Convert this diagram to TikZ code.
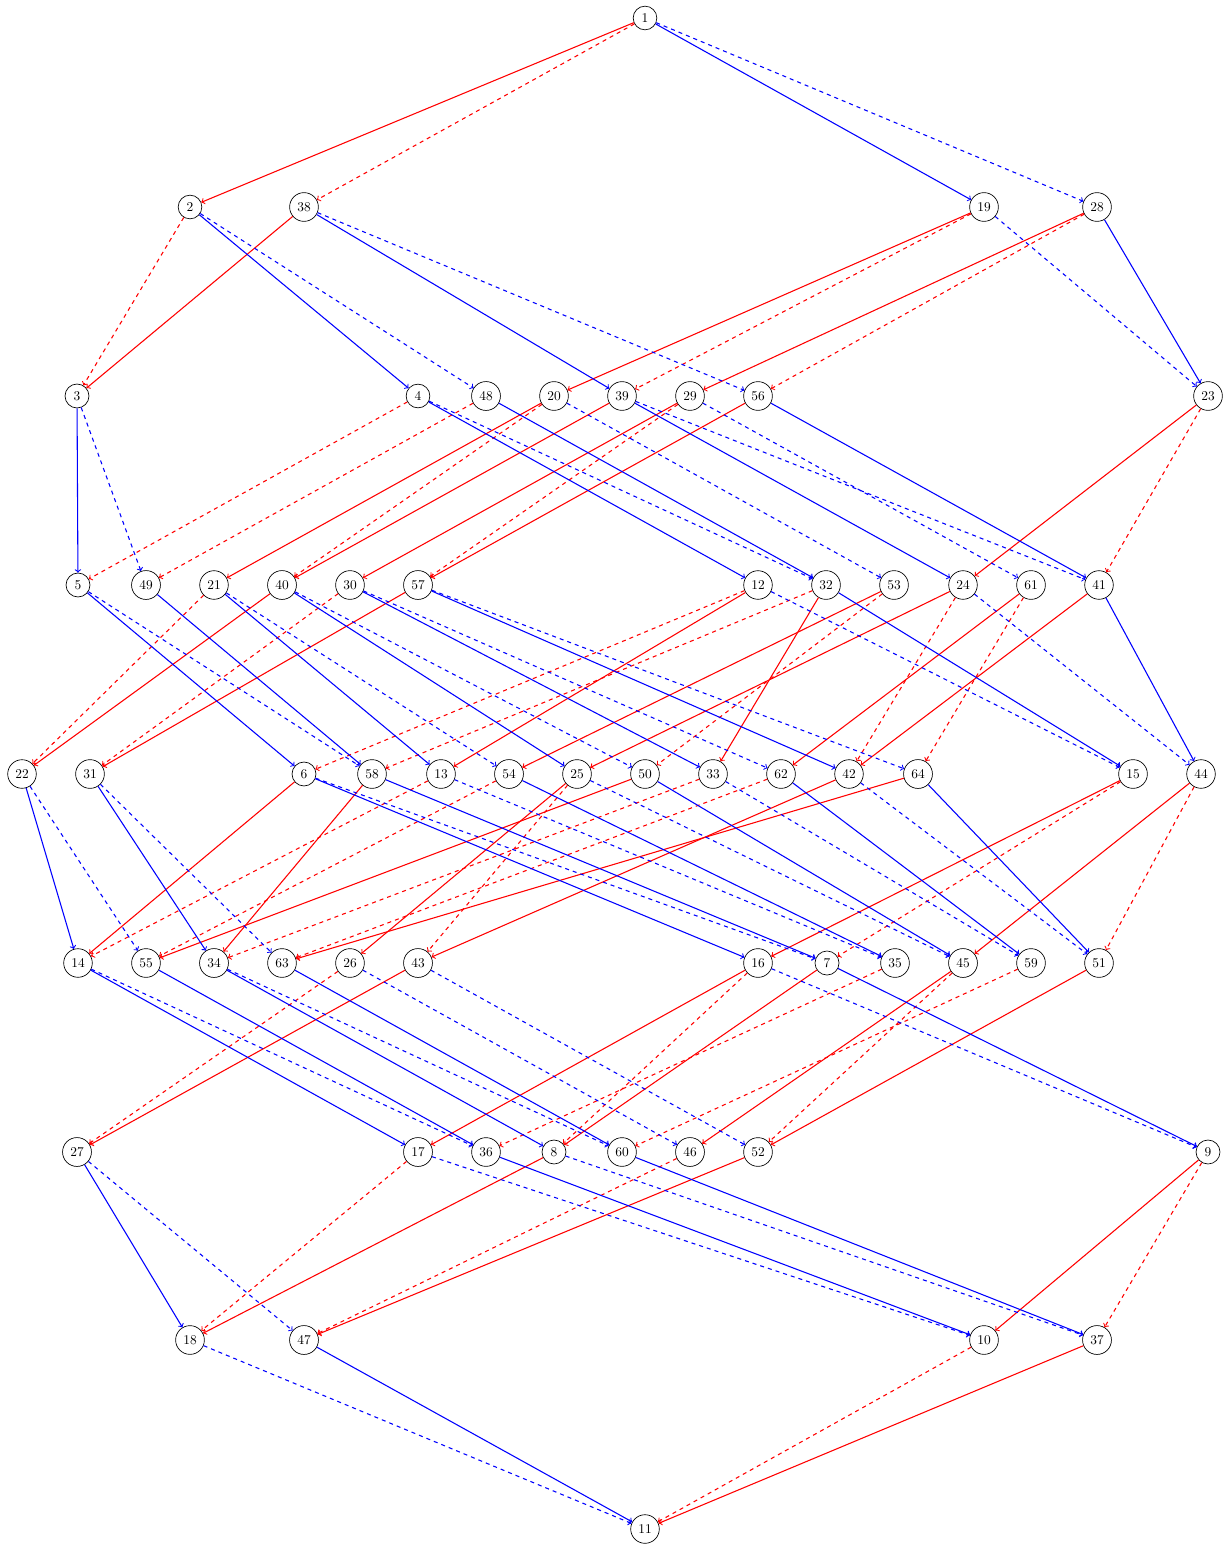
\documentclass[tikz,border=0pt]{standalone}
\usetikzlibrary{arrows}
\begin{document}
\begin{tikzpicture}[x=0.746pt,y=-0.746pt,
  v/.style={draw,circle,line width=0.5pt,fill=white},
  rs/.style={->,red,thick},
  rd/.style={->,red,thick,dashed},
  bs/.style={->,blue,thick},
  bd/.style={->,blue,thick,dashed}]
\useasboundingbox (0,0) rectangle (1231,1546);
% layer 0
\node[v] (n1) at (645,18) {1};
% layer 1
\foreach \n/\x in {2/190,38/304,19/984,28/1097} \node[v] (n\n) at (\x,207) {\n};
% layer 2
\foreach \n/\x in {3/77,4/418,48/486,20/554,39/622,29/690,56/758,23/1208} \node[v] (n\n) at (\x,396) {\n};
% layer 3
\foreach \n/\x in {5/78,49/146,21/214,40/282,30/350,57/418,12/758,32/826,53/894,24/963,61/1031,41/1099} \node[v] (n\n) at (\x,585) {\n};
% layer 4
\foreach \n/\x in {22/22,31/90,6/304,58/372,13/441,54/509,25/577,50/645,33/713,62/781,42/849,64/918,15/1133,44/1201} \node[v] (n\n) at (\x,774) {\n};
% layer 5
\foreach \n/\x in {14/78,55/146,34/214,63/282,26/350,43/418,16/758,7/827,35/895,45/963,59/1031,51/1099} \node[v] (n\n) at (\x,963) {\n};
% layer 6
\foreach \n/\x in {27/77,17/418,36/486,8/554,60/622,46/690,52/758,9/1208} \node[v] (n\n) at (\x,1152) {\n};
% layer 7
\foreach \n/\x in {18/190,47/304,10/984,37/1097} \node[v] (n\n) at (\x,1340) {\n};
% layer 8
\node[v] (n11) at (645,1529) {11};
% edges
\foreach \a/\b in {1/2,38/3,19/20,28/29,20/21,39/40,29/30,56/57,23/24,40/22,57/31,12/13,32/33,53/54,24/25,61/62,41/42,6/14,58/34,25/26,50/55,64/63,42/43,15/16,44/45,43/27,16/17,7/8,45/46,51/52,8/18,52/47,9/10,37/11}
  \draw[rs] (n\a) -- (n\b);
\foreach \a/\b in {1/38,2/3,19/39,28/56,4/5,48/49,20/40,29/57,23/41,21/22,30/31,12/6,32/58,53/50,24/42,61/64,13/14,54/55,25/43,33/34,62/63,15/7,44/51,26/27,16/8,35/36,45/52,59/60,17/18,46/47,9/37,10/11}
  \draw[rd] (n\a) -- (n\b);
\foreach \a/\b in {1/19,2/4,38/39,28/23,3/5,4/12,48/32,39/24,56/41,5/6,49/58,21/13,40/25,30/33,57/42,32/15,41/44,22/14,31/34,6/16,58/7,54/35,50/45,62/59,64/51,14/17,55/36,34/8,63/60,7/9,27/18,36/10,60/37,47/11}
  \draw[bs] (n\a) -- (n\b);
\foreach \a/\b in {1/28,2/48,38/56,19/23,3/49,4/32,20/53,39/41,29/61,5/58,21/54,40/50,30/62,57/64,12/15,24/44,22/55,31/63,6/7,13/35,25/45,33/59,42/51,14/36,34/60,26/46,43/52,16/9,27/47,17/10,8/37,18/11}
  \draw[bd] (n\a) -- (n\b);
\end{tikzpicture}
\end{document}
